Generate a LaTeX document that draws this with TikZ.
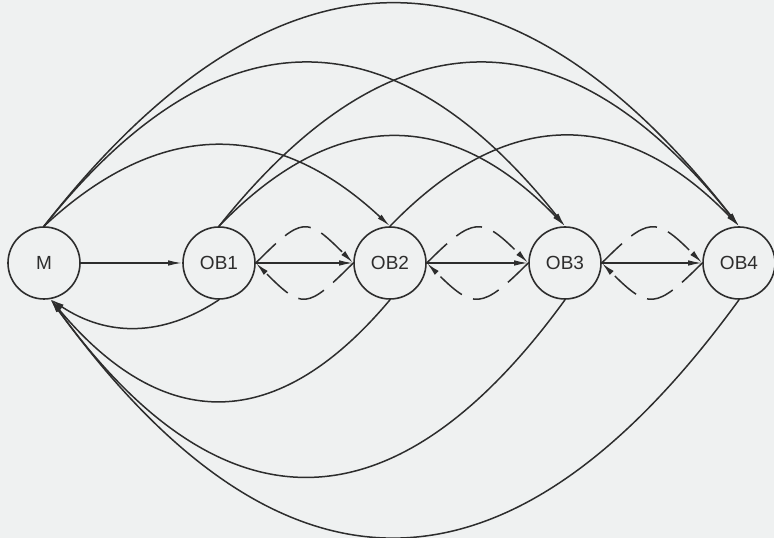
\documentclass[tikz,border=0pt]{standalone}
\usepackage{fontspec}
\setmainfont{Liberation Sans}
\usetikzlibrary{arrows.meta}
\definecolor{paper}{RGB}{239,241,241}
\definecolor{ink}{RGB}{45,45,45}
\begin{document}
\begin{tikzpicture}[x=1pt,y=1pt,
  state/.style={circle, draw=ink, line width=1.6pt, fill=paper,
    minimum size=72pt, inner sep=0pt,
    font=\fontsize{19}{21}\selectfont, text=ink},
  link/.style={draw=ink, line width=1.5pt,
    -{Latex[length=14pt,width=5.5pt]}},
  back/.style={link, dash pattern=on 28pt off 12pt},
]
% page
\fill[paper] (0,0) rectangle (774,538);
\useasboundingbox (0,0) rectangle (774,538);

% states
\node[state] (m)   at (44,275)  {M};
\node[state] (ob1) at (219,275) {OB1};
\node[state] (ob2) at (390,275) {OB2};
\node[state] (ob3) at (565,275) {OB3};
\node[state] (ob4) at (739,275) {OB4};

% forward chain
\draw[link] (m)   -- (ob1);
\draw[link] (ob1) -- (ob2);
\draw[link] (ob2) -- (ob3);
\draw[link] (ob3) -- (ob4);

% dashed exchanges between neighbours
\draw[back] (ob1.east) to[out=45,in=135,distance=66pt] (ob2.west);
\draw[back] (ob2.west) to[out=-135,in=-45,distance=66pt] (ob1.east);
\draw[back] (ob2.east) to[out=45,in=135,distance=66pt] (ob3.west);
\draw[back] (ob3.west) to[out=-135,in=-45,distance=66pt] (ob2.east);
\draw[back] (ob3.east) to[out=45,in=135,distance=66pt] (ob4.west);
\draw[back] (ob4.west) to[out=-135,in=-45,distance=66pt] (ob3.east);

% skip links over the top
\draw[link] (m.north)   to[out=43,in=137,distance=158pt] (ob2.north);
\draw[link] (ob1.north) to[out=46,in=134,distance=166pt] (ob3.north);
\draw[link] (ob2.north) to[out=46,in=134,distance=167pt] (ob4.north);
\draw[link] (m.north)   to[out=51.4,in=128.6,distance=278pt] (ob3.north);
\draw[link] (ob1.north) to[out=51.4,in=128.6,distance=278pt] (ob4.north);
\draw[link] (m.north)   to[out=52,in=128,distance=376pt] (ob4.north);

% returns to M underneath
\draw[link] (ob1.south) to[out=213.5,in=-33.5,distance=68pt] (m.-80);
\draw[link] (ob2.south) to[out=230,in=-50,distance=176pt] (m.-80);
\draw[link] (ob3.south) to[out=234,in=-54,distance=291pt] (m.-80);
\draw[link] (ob4.south) to[out=234,in=-54,distance=391pt] (m.-80);
\end{tikzpicture}
\end{document}
